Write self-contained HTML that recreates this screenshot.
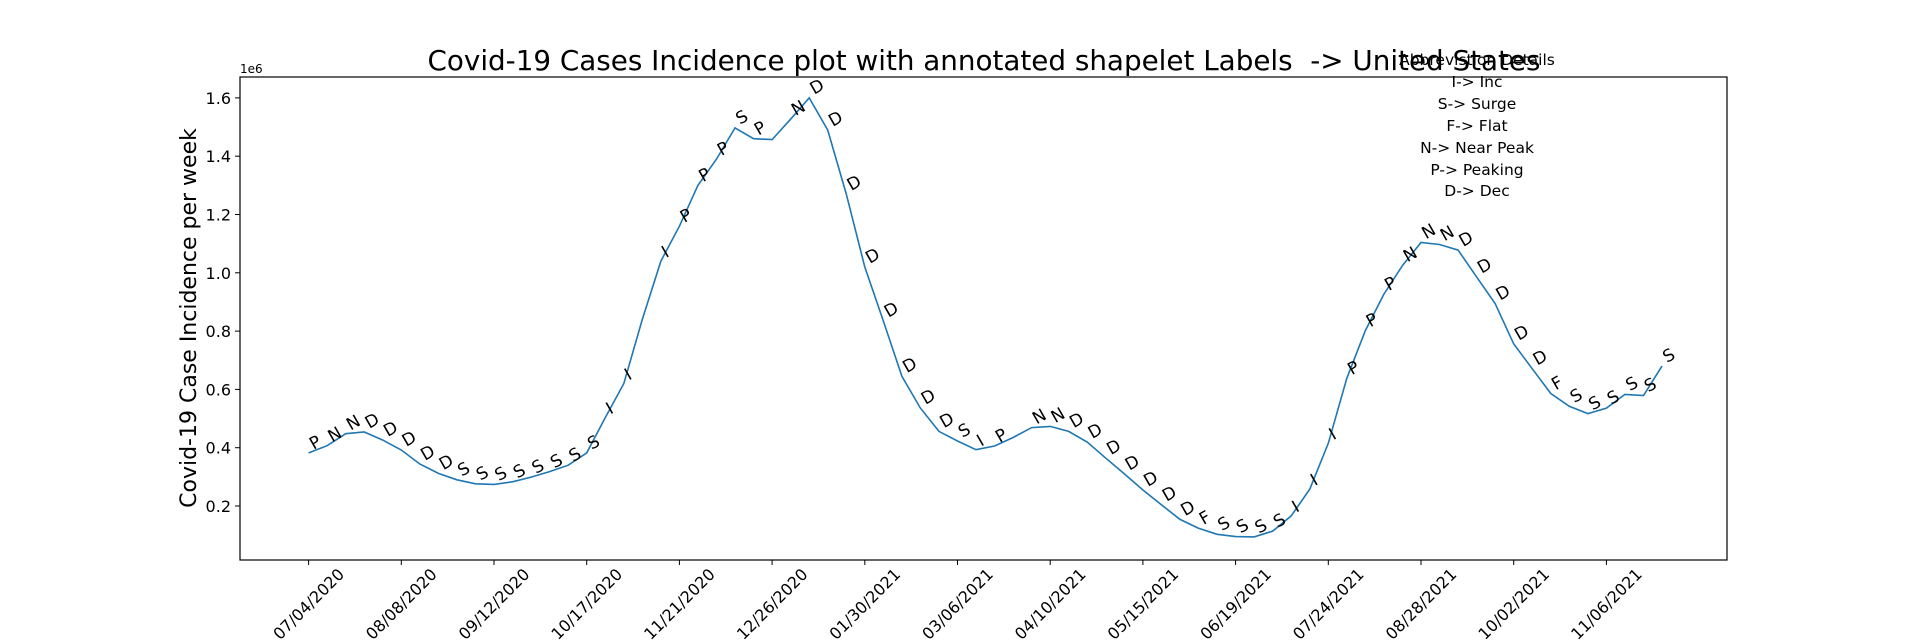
<!DOCTYPE html>
<html><head><meta charset="utf-8"><style>
html,body{margin:0;padding:0;background:#fff;}
svg{display:block;font-family:"DejaVu Sans","Liberation Sans",sans-serif;}
</style></head><body>
<svg id="chart" width="1920" height="640" viewBox="0 0 1920 640">
<rect x="0" y="0" width="1920" height="640" fill="#fff"/>
<text x="984" y="70" font-size="28" text-anchor="middle" textLength="1113" lengthAdjust="spacingAndGlyphs" xml:space="preserve" style="white-space:pre">Covid-19 Cases Incidence plot with annotated shapelet Labels  -&gt; United States</text>
<text transform="translate(196,318) rotate(-90)" font-size="22" text-anchor="middle">Covid-19 Case Incidence per week</text>
<text x="240" y="73" font-size="12">1e6</text>
<g id="xticks"></g>
<g id="yticks"></g>
<g id="series"></g>
<g id="labels"></g>
<rect x="240" y="77" width="1487" height="483" fill="none" stroke="#000" stroke-width="1.2"/>
<g font-size="15.5" text-anchor="middle">
<text x="1477" y="65">Abbrevistion Details</text>
<text x="1477" y="87">I-&gt; Inc</text>
<text x="1477" y="109">S-&gt; Surge</text>
<text x="1477" y="131">F-&gt; Flat</text>
<text x="1477" y="153">N-&gt; Near Peak</text>
<text x="1477" y="175">P-&gt; Peaking</text>
<text x="1477" y="196">D-&gt; Dec</text>
</g>
</svg>
<script>
const values = [0.382,0.407,0.448,0.454,0.426,0.392,0.344,0.312,0.290,0.276,0.274,0.283,0.299,0.318,0.340,0.382,0.503,0.62,0.84,1.04,1.16,1.30,1.39,1.497,1.46,1.457,1.527,1.60,1.49,1.27,1.02,0.835,0.645,0.536,0.456,0.423,0.393,0.406,0.435,0.469,0.473,0.456,0.419,0.364,0.31,0.255,0.204,0.154,0.124,0.103,0.095,0.094,0.114,0.166,0.258,0.415,0.638,0.802,0.927,1.025,1.104,1.097,1.078,0.986,0.894,0.756,0.671,0.586,0.542,0.517,0.536,0.583,0.579,0.680];
const shapeLabels = ["P","N","N","D","D","D","D","D","S","S","S","S","S","S","S","S","I","I","","I","P","P","P","S","P","","N","D","D","D","D","D","D","D","D","S","I","P","","N","N","D","D","D","D","D","D","D","F","S","S","S","S","I","I","I","P","P","P","N","N","N","D","D","D","D","D","F","S","S","S","S","S","S"];
const xTickLabels = ["07/04/2020","08/08/2020","09/12/2020","10/17/2020","11/21/2020","12/26/2020","01/30/2021","03/06/2021","04/10/2021","05/15/2021","06/19/2021","07/24/2021","08/28/2021","10/02/2021","11/06/2021"];
const yTickValues = [0.2,0.4,0.6,0.8,1.0,1.2,1.4,1.6];
const NS='http://www.w3.org/2000/svg';
function xs(w){return 308.6+w*18.54;}
function ys(v){return 506-(v-0.2)/0.2*58.3;}
function mk(t,a,p){const e=document.createElementNS(NS,t);for(const k in a)e.setAttribute(k,a[k]);p.appendChild(e);return e;}
const xg=document.getElementById('xticks'),yg=document.getElementById('yticks'),sg=document.getElementById('series'),lg=document.getElementById('labels');
xTickLabels.forEach((s,i)=>{const x=xs(i*5);
 const l=mk('line',{x1:x,x2:x,y1:560,y2:565,stroke:'#000','stroke-width':1},xg);
 
 
 const t=mk('text',{transform:`translate(${x},${604}) rotate(-45)`,'font-size':16,'text-anchor':'middle',dy:'0.35em'},xg);
 t.textContent=s;
 
 
});
yTickValues.forEach(v=>{const y=ys(v);
 const l=mk('line',{x1:235,x2:240,y1:y,y2:y,stroke:'#000','stroke-width':1},yg);
 
 
 const t=mk('text',{x:231,y:y+6,'font-size':16,'text-anchor':'end'},yg);
 t.textContent=v.toFixed(1);
 
 
});
const pts=values.map((v,i)=>xs(i).toFixed(1)+','+ys(v).toFixed(1)).join(' ');
const pl=mk('polyline',{points:pts,fill:'none',stroke:'#1f77b4','stroke-width':1.6},sg);


shapeLabels.forEach((s,i)=>{if(!s)return;const x=xs(i)+5,y=ys(values[i])-3;
 const t=mk('text',{transform:`translate(${x},${y}) rotate(-30)`,'font-size':17},lg);
 t.textContent=s;
 
 
});
</script>
</body></html>
